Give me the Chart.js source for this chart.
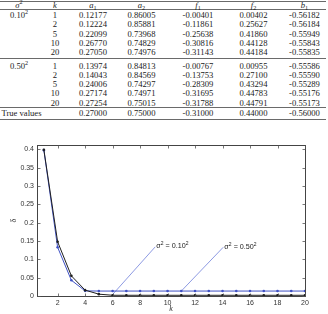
<!DOCTYPE html>
<html><head><meta charset="utf-8">
<script src="https://cdn.jsdelivr.net/npm/chart.js@4"></script>
<style>
html,body{margin:0;padding:0;background:#fff;}
#wrap{position:relative;width:328px;height:314px;overflow:hidden;background:#fff;}
#tbl{position:absolute;left:0;top:0;width:328px;height:125px;font-family:"Liberation Serif","DejaVu Serif",serif;font-size:8.6px;color:#1a1a1a;}
.c{position:absolute;white-space:nowrap;transform:translate(-50%,-50%);line-height:1;}
.l{position:absolute;white-space:nowrap;transform:translate(0,-50%);line-height:1;}
.rule{position:absolute;left:0;width:326px;height:1px;background:#6a6a6a;}
sub,sup{font-size:72%;line-height:0;}
#cv{position:absolute;left:0;top:130px;}
</style></head>
<body><div id="wrap"><div id="tbl"></div><canvas id="cv" width="328" height="184"></canvas></div>
<script>
// ---- table data ----
const headerHtml = ['<i>σ</i><sup>2</sup>','<i>k</i>','<i>a</i><sub>1</sub>','<i>a</i><sub>2</sub>','<i>f</i><sub>1</sub>','<i>f</i><sub>2</sub>','<i>b</i><sub>1</sub>'];
const sigmaGroups = ['0.10<sup>2</sup>','0.50<sup>2</sup>'];
const kValues = [1, 2, 5, 10, 20];
const group010 = [
  [0.12177, 0.86005, -0.00401, 0.00402, -0.56182],
  [0.12224, 0.85881, -0.11861, 0.25627, -0.56184],
  [0.22099, 0.73968, -0.25638, 0.41860, -0.55949],
  [0.26770, 0.74829, -0.30816, 0.44128, -0.55843],
  [0.27050, 0.74976, -0.31143, 0.44184, -0.55835]
];
const group050 = [
  [0.13974, 0.84813, -0.00767, 0.00955, -0.55586],
  [0.14043, 0.84569, -0.13753, 0.27100, -0.55590],
  [0.24006, 0.74297, -0.28309, 0.43294, -0.55289],
  [0.27174, 0.74971, -0.31695, 0.44783, -0.55176],
  [0.27254, 0.75015, -0.31788, 0.44791, -0.55173]
];
const trueLabel = 'True values';
const trueValues = [0.27000, 0.75000, -0.31000, 0.44000, -0.56000];

// ---- chart data ----
const kSteps = [1,2,3,4,5,6,7,8,9,10,11,12,13,14,15,16,17,18,19,20];
const deltaSigma010 = [0.399,0.148,0.055,0.016,0.005,0.002,0.002,0.002,0.002,0.002,0.002,0.002,0.002,0.002,0.002,0.002,0.002,0.002,0.002,0.002];
const deltaSigma050 = [0.398,0.133,0.043,0.014,0.0135,0.0135,0.0135,0.0135,0.0135,0.0135,0.0135,0.0135,0.0135,0.0135,0.0135,0.0135,0.0135,0.0135,0.0135,0.0135];
const xTickValues = [2,4,6,8,10,12,14,16,18,20];
const xTickLabels = ['2','4','6','8','10','12','14','16','18','20'];
const yTickValues = [0,0.05,0.1,0.15,0.2,0.25,0.3,0.35,0.4];
const yTickLabels = ['0','0.05','0.1','0.15','0.2','0.25','0.3','0.35','0.4'];
// label parts: [text, superscript?]
const annoLabels = [
  [['σ',false],['2',true],[' = 0.10',false],['2',true]],
  [['σ',false],['2',true],[' = 0.50',false],['2',true]]
];
const annoFromK = [6, 11];
const annoFromD = [0.004, 0.0135];
const annoToK = [9.1, 14.05];
const annoToD = [0.134, 0.133];

// ---- build table ----
const tbl = document.getElementById('tbl');
const colX = [19, 55, 93, 141.5, 198, 253.5, 304.5];
function put(html, x, y, cls){ const d=document.createElement('div'); d.className=cls||'c'; d.style.left=x+'px'; d.style.top=y+'px'; d.innerHTML=html; tbl.appendChild(d); }
function rule(y){ const d=document.createElement('div'); d.className='rule'; d.style.top=y+'px'; tbl.appendChild(d); }
rule(1); rule(9); rule(57.5); rule(107); rule(118.5);
headerHtml.forEach((h,i)=>put(h, colX[i], 5));
const rowY1 = [15, 24.3, 33.8, 43.2, 52.4];
const rowY2 = [65.7, 74.8, 84, 93.3, 102.6];
[[group010,rowY1,0],[group050,rowY2,1]].forEach(([g,ys,gi])=>{
  put(sigmaGroups[gi], colX[0], ys[0]);
  g.forEach((row,ri)=>{
    put(String(kValues[ri]), colX[1], ys[ri]);
    row.forEach((v,ci)=>put(v.toFixed(5), colX[ci+2], ys[ri]));
  });
});
put(trueLabel, 1.5, 112.6, 'l');
trueValues.forEach((v,ci)=>put(v.toFixed(5), colX[ci+2], 112.6));

// ---- chart ----
const black = '#1e1e1e', blue = '#3f51c4', annoBlue = '#5b6fd6';
const pts = (xs, ys) => xs.map((x,i)=>({x:x, y:ys[i]}));
const annoDatasets = annoLabels.map((lab,i)=>({
  label: 'annotation ' + (i+1), data: [{x:annoFromK[i], y:annoFromD[i]},{x:annoToK[i], y:annoToD[i]}],
  borderColor: annoBlue, borderWidth: 0.7, pointRadius: 0, fill:false
}));
const frame = {
  id: 'frame',
  afterDatasetsDraw(chart){
    const {ctx, chartArea:a, scales:{x, y}} = chart;
    ctx.save();
    ctx.strokeStyle = '#444'; ctx.lineWidth = 1;
    const L=Math.round(a.left)+0.5, R=Math.round(a.right)+0.5, T=Math.round(a.top)+0.5, B=Math.round(a.bottom)+0.5;
    ctx.strokeRect(L, T, R-L, B-T);
    ctx.strokeStyle = '#555'; ctx.lineWidth = 0.8;
    ctx.beginPath();
    x.ticks.forEach(t=>{ const px=Math.round(x.getPixelForValue(t.value))+0.5; ctx.moveTo(px,B); ctx.lineTo(px,B-3); ctx.moveTo(px,T); ctx.lineTo(px,T+3); });
    y.ticks.forEach(t=>{ const py=Math.round(y.getPixelForValue(t.value))+0.5; ctx.moveTo(L,py); ctx.lineTo(L+3,py); ctx.moveTo(R,py); ctx.lineTo(R-3,py); });
    ctx.stroke();
    ctx.fillStyle = '#222';
    ctx.textBaseline = 'alphabetic'; ctx.textAlign = 'left';
    const fam = '"Liberation Sans", Arial, sans-serif';
    annoLabels.forEach((parts,i)=>{
      let px = x.getPixelForValue(annoToK[i])+1;
      const py = y.getPixelForValue(annoToD[i])+1.5;
      parts.forEach(([txt,sup])=>{
        ctx.font = (sup ? '5px ' : '7.2px ') + fam;
        ctx.fillText(txt, px, sup ? py-3.2 : py);
        px += ctx.measureText(txt).width + (sup ? 0.2 : 0);
      });
    });
    ctx.restore();
  }
};
new Chart(document.getElementById('cv'), {
  type: 'line',
  data: { datasets: [
    { label:'σ² = 0.10²', data: pts(kSteps, deltaSigma010), borderColor: black, backgroundColor: black, borderWidth: 1, pointRadius: 1.3, pointBorderWidth: 0, pointBackgroundColor: black, fill:false },
    { label:'σ² = 0.50²', data: pts(kSteps, deltaSigma050), borderColor: blue, backgroundColor: blue, borderWidth: 1, pointRadius: 1.3, pointBorderWidth: 0, pointBackgroundColor: blue, fill:false },
    ...annoDatasets
  ]},
  options: {
    responsive: false, animation: false, devicePixelRatio: 1,
    layout: { padding: { left: 5, right: 23, top: 15, bottom: 0 } },
    plugins: { legend: { display: false }, tooltip: { enabled: false } },
    elements: { line: { tension: 0 } },
    scales: {
      x: { type: 'linear', min: 0.5, max: 20,
        afterBuildTicks: s => { s.ticks = xTickValues.map(v=>({value:v})); },
        afterFit: s => { s.height = 18; },
        grid: { display: false, drawTicks: false }, border: { display: false },
        ticks: { autoSkip: false, maxRotation: 0, padding: 3, color: '#333', font: { size: 7, family: '"Liberation Sans", Arial, sans-serif' }, callback: (v,i)=>xTickLabels[i] },
        title: { display: true, text: 'k', color: '#333', padding: { top: 0, bottom: 0 }, font: { size: 8, style: 'italic', family: '"Liberation Serif", serif' } }
      },
      y: { type: 'linear', min: 0, max: 0.412,
        afterBuildTicks: s => { s.ticks = yTickValues.map(v=>({value:v})); },
        afterFit: s => { s.width = 32; },
        grid: { display: false, drawTicks: false }, border: { display: false },
        ticks: { autoSkip: false, padding: 3, color: '#333', font: { size: 7, family: '"Liberation Sans", Arial, sans-serif' }, callback: (v,i)=>yTickLabels[i] },
        title: { display: true, text: 'δ', color: '#333', padding: { top: 4, bottom: 0 }, font: { size: 8, family: '"Liberation Serif", serif' } }
      }
    }
  },
  plugins: [frame]
});
</script></body></html>
